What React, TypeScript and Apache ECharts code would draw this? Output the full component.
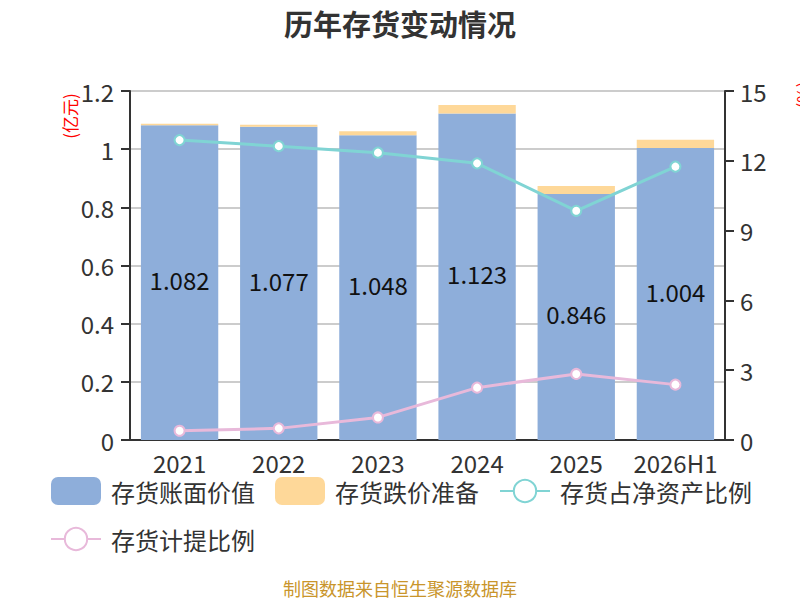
import React, { useEffect, useRef } from "react";
import * as echarts from "echarts";

const categories = ["2021", "2022", "2023", "2024", "2025", "2026H1"];
const bookValue = [1.082, 1.077, 1.048, 1.123, 0.846, 1.004];
const impairment = [0.005, 0.007, 0.014, 0.029, 0.027, 0.028];
const netAssetRatio = [12.89, 12.63, 12.35, 11.89, 9.85, 11.75];
const provisionRatio = [0.4, 0.5, 0.97, 2.25, 2.84, 2.38];

const FONT = "'Noto Sans CJK SC', 'Noto Sans', sans-serif";

export default function App() {
  const ref = useRef<HTMLDivElement>(null);
  useEffect(() => {
    if (!ref.current) return;
    const chart = echarts.init(ref.current, undefined, { renderer: "svg" });
    chart.setOption({
      animation: false,
      textStyle: { fontFamily: FONT },
      title: {
        text: "历年存货变动情况",
        left: "center",
        top: 3,
        textStyle: { fontSize: 29, fontWeight: "bold", color: "#333", fontFamily: FONT },
      },
      grid: { left: 130, right: 75, top: 91, bottom: 160 },
      legend: {
        left: 50,
        top: 477,
        width: 720,
        padding: 0,
        itemWidth: 50,
        itemHeight: 28,
        itemGap: 20,
        textStyle: { fontSize: 24, color: "#333", padding: [0, 0, 0, 5], fontFamily: FONT },
        data: [
          { name: "存货账面价值", icon: "roundRect" },
          { name: "存货跌价准备", icon: "roundRect" },
          { name: "存货占净资产比例" },
          { name: "存货计提比例" },
        ],
      },
      xAxis: {
        type: "category",
        data: categories,
        axisLine: { lineStyle: { color: "#333", width: 2 } },
        axisTick: { lineStyle: { color: "#333", width: 2 }, length: 8 },
        axisLabel: { fontSize: 24, color: "#333", margin: 10, interval: 0 },
      },
      yAxis: [
        {
          type: "value",
          min: 0,
          max: 1.2,
          interval: 0.2,
          axisLine: { show: true, lineStyle: { color: "#333", width: 2 } },
          axisTick: { show: true, lineStyle: { color: "#333", width: 2 }, length: 9 },
          axisLabel: { fontSize: 24, color: "#333", margin: 16 },
          splitLine: { lineStyle: { color: "#ccc", width: 2 } },
        },
        {
          type: "value",
          min: 0,
          max: 15,
          interval: 3,
          axisLine: { show: true, lineStyle: { color: "#333", width: 2 } },
          axisTick: { show: true, lineStyle: { color: "#333", width: 2 }, length: 9 },
          axisLabel: { fontSize: 24, color: "#333", margin: 15 },
          splitLine: { show: false },
        },
      ],
      series: [
        {
          name: "存货账面价值",
          type: "bar",
          stack: "total",
          data: bookValue,
          barWidth: "78%",
          itemStyle: { color: "#8eaeda" },
          label: {
            show: true,
            position: "inside",
            fontSize: 24,
            color: "#111",
            offset: [0, -3],
            formatter: (p: any) => p.value.toFixed(3),
          },
        },
        {
          name: "存货跌价准备",
          type: "bar",
          stack: "total",
          data: impairment,
          barWidth: "78%",
          itemStyle: { color: "#fed899" },
        },
        {
          name: "存货占净资产比例",
          type: "line",
          yAxisIndex: 1,
          data: netAssetRatio,
          symbol: "circle",
          symbolSize: 10,
          lineStyle: { color: "#80d4d4", width: 3 },
          itemStyle: { color: "#fff", borderColor: "#80d4d4", borderWidth: 2 },
        },
        {
          name: "存货计提比例",
          type: "line",
          yAxisIndex: 1,
          data: provisionRatio,
          symbol: "circle",
          symbolSize: 10,
          lineStyle: { color: "#e8b9da", width: 3 },
          itemStyle: { color: "#fff", borderColor: "#e8b9da", borderWidth: 2 },
        },
      ],
      graphic: [
        {
          type: "text",
          x: 69,
          y: 116,
          rotation: Math.PI / 2,
          style: {
            text: "(亿元)",
            fill: "#f00",
            fontSize: 17,
            fontFamily: FONT,
            align: "center",
            verticalAlign: "middle",
          },
        },
        {
          type: "text",
          x: 802,
          y: 95,
          rotation: Math.PI / 2,
          style: {
            text: "(%)",
            fill: "#f00",
            fontSize: 17,
            fontFamily: FONT,
            align: "center",
            verticalAlign: "middle",
          },
        },
        {
          type: "text",
          x: 400,
          y: 588,
          style: {
            text: "制图数据来自恒生聚源数据库",
            fill: "#c9952b",
            fontSize: 18,
            fontFamily: FONT,
            align: "center",
            verticalAlign: "middle",
          },
        },
      ],
    });
    return () => chart.dispose();
  }, []);
  return <div ref={ref} style={{ width: 800, height: 600, position: "absolute", left: 0, top: 0 }} />;
}
